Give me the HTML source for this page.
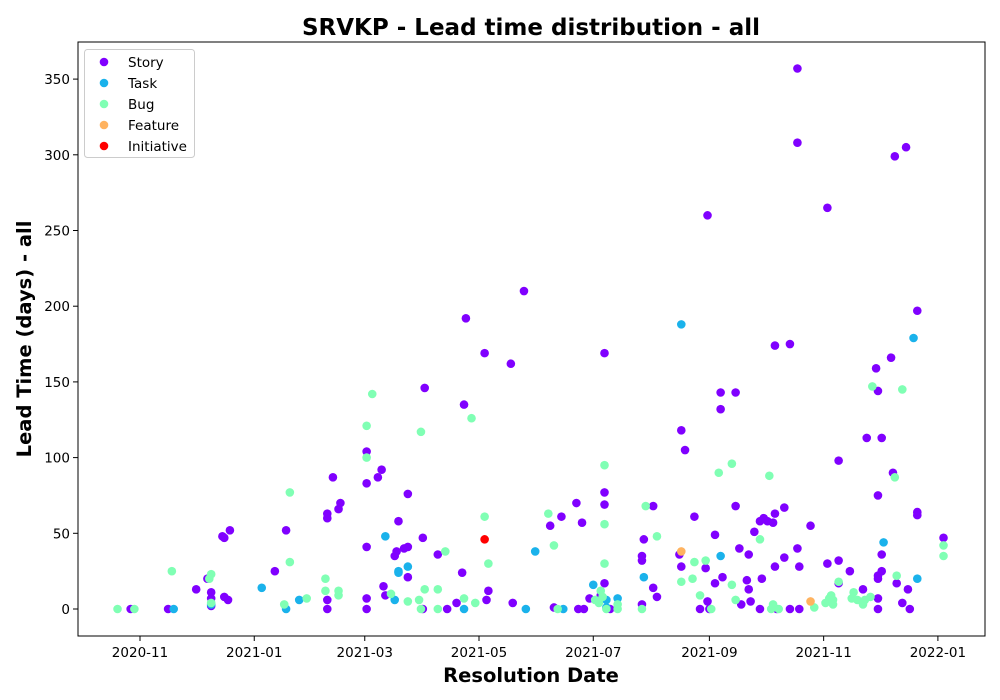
<!DOCTYPE html>
<html><head><meta charset="utf-8"><style>
body{margin:0;background:#fff;}
svg{display:block;font-family:"DejaVu Sans","Liberation Sans",sans-serif;}
</style></head><body>
<svg id="chart" width="1000" height="700">
<rect width="1000" height="700" fill="#fff"/>
<text x="531" y="35" text-anchor="middle" font-size="23" font-weight="bold">SRVKP - Lead time distribution - all</text>
<text x="531" y="682" text-anchor="middle" font-size="19.5" font-weight="bold">Resolution Date</text>
<text transform="translate(31,339) rotate(-90)" text-anchor="middle" font-size="19.5" font-weight="bold">Lead Time (days) - all</text>
<g id="ticks"></g>
<g id="marks"></g>
<rect x="78" y="42" width="907" height="594" fill="none" stroke="#000" stroke-width="1"/>
<g id="legend"></g>
</svg>
<script>
// days since 2020-11-01, lead time in days
const storyPts=[[-5,0],[15,0],[30,13],[36,20],[38,7],[38,2],[38,11],[44,48],[45,47],[48,52],[45,8],[47,6],[72,25],[78,52],[100,60],[100,63],[103,87],[106,66],[107,70],[100,6],[100,0],[121,104],[121,83],[121,41],[121,7],[121,0],[127,87],[129,92],[130,15],[131,9],[136,35],[137,38],[138,58],[141,40],[143,41],[143,76],[143,21],[152,146],[151,47],[151,0],[159,36],[164,0],[169,4],[172,24],[173,135],[174,192],[184,169],[185,6],[186,12],[198,162],[199,4],[205,210],[219,55],[221,1],[225,61],[233,70],[236,57],[234,0],[237,0],[240,7],[246,9],[248,17],[248,69],[248,77],[248,169],[251,0],[268,35],[268,32],[269,46],[268,3],[274,68],[274,14],[276,8],[288,36],[289,28],[289,118],[291,105],[296,61],[299,0],[302,27],[303,260],[303,5],[304,0],[307,17],[307,49],[310,143],[310,132],[311,21],[318,143],[318,68],[320,40],[321,3],[324,19],[325,13],[325,36],[326,5],[328,51],[331,58],[332,20],[331,0],[333,60],[335,58],[339,174],[338,57],[339,63],[339,28],[340,0],[344,34],[344,67],[347,175],[347,0],[351,357],[351,308],[351,40],[352,28],[352,0],[358,55],[367,265],[367,30],[373,17],[373,32],[373,98],[379,25],[386,13],[388,113],[393,159],[394,144],[394,75],[394,22],[394,20],[394,0],[394,7],[396,113],[396,36],[396,25],[401,166],[402,90],[404,17],[403,299],[409,305],[407,4],[410,13],[411,0],[415,197],[415,62],[415,64],[429,47]];
const taskPts=[[18,0],[38,3],[65,14],[78,0],[85,6],[131,48],[138,25],[138,24],[143,28],[136,6],[173,0],[206,0],[211,38],[226,0],[242,16],[249,1],[249,6],[255,7],[269,21],[289,188],[310,35],[413,179],[415,20],[397,44]];
const bugPts=[[-12,0],[-3,0],[17,25],[37,20],[38,23],[38,4],[77,3],[80,77],[80,31],[89,7],[99,20],[99,12],[106,12],[106,9],[121,100],[121,121],[124,142],[134,10],[143,5],[149,6],[150,117],[150,0],[152,13],[159,0],[159,13],[163,38],[173,7],[179,4],[177,126],[184,61],[186,30],[218,63],[221,42],[223,0],[243,6],[245,4],[246,12],[247,8],[248,95],[248,56],[248,30],[249,0],[255,3],[255,0],[268,0],[270,68],[276,48],[289,18],[295,20],[296,31],[299,9],[302,32],[305,0],[309,90],[316,96],[316,16],[318,6],[331,46],[336,88],[337,0],[338,3],[341,0],[360,1],[366,4],[368,7],[369,9],[370,3],[370,6],[373,18],[380,7],[381,11],[383,6],[386,3],[387,6],[390,8],[391,147],[403,87],[404,22],[407,145],[429,42],[429,35]];
const featurePts=[[289,38],[358,5]];
const initiativePts=[[184,46]];
const seriesNames=["Story","Task","Bug","Feature","Initiative"];
const seriesColors=["#8000ff","#1ab2eb","#80ffb4","#ffb360","#ff0000"];
const xTickLabels=["2020-11","2021-01","2021-03","2021-05","2021-07","2021-09","2021-11","2022-01"];
const xTickDays=[0,61,120,181,242,304,365,426];
const yTickValues=[0,50,100,150,200,250,300,350];

const NS="http://www.w3.org/2000/svg";
const xs=d=>140+d*1.873;
const ys=v=>609-v*1.514;
function mk(tag,attrs,parent){const e=document.createElementNS(NS,tag);for(const k in attrs)e.setAttribute(k,attrs[k]);parent.appendChild(e);return e;}
const ticks=document.getElementById('ticks');
xTickDays.forEach((d,i)=>{
  const l=mk('line',{x1:xs(d),x2:xs(d),y1:636,y2:641,stroke:'#000'},ticks);
  
  
  const t=mk('text',{x:xs(d),y:657,'text-anchor':'middle','font-size':13.5},ticks);
  t.textContent=xTickLabels[i];
  
  
});
yTickValues.forEach(v=>{
  const l=mk('line',{x1:73,x2:78,y1:ys(v),y2:ys(v),stroke:'#000'},ticks);
  
  
  const t=mk('text',{x:70,y:ys(v)+5,'text-anchor':'end','font-size':13.5},ticks);
  t.textContent=v;
  
  
});
const marks=document.getElementById('marks');
[storyPts,taskPts,bugPts,featurePts,initiativePts].forEach((pts,si)=>{
  pts.forEach(p=>{
    const c=mk('circle',{cx:xs(p[0]),cy:ys(p[1]),r:4.3,fill:seriesColors[si]},marks);
    
    
  });
});
const lg=document.getElementById('legend');
const box=mk('rect',{x:84.5,y:49.5,width:110,height:108,rx:3,fill:'#fff','fill-opacity':0.8,stroke:'#ccc'},lg);


seriesNames.forEach((n,i)=>{
  const y=62+i*21;
  const c=mk('circle',{cx:104,cy:y,r:4.3,fill:seriesColors[i]},lg);
  
  
  const t=mk('text',{x:128,y:y+5,'font-size':13.5},lg);
  t.textContent=n;
  
  
});
</script>
</body></html>
